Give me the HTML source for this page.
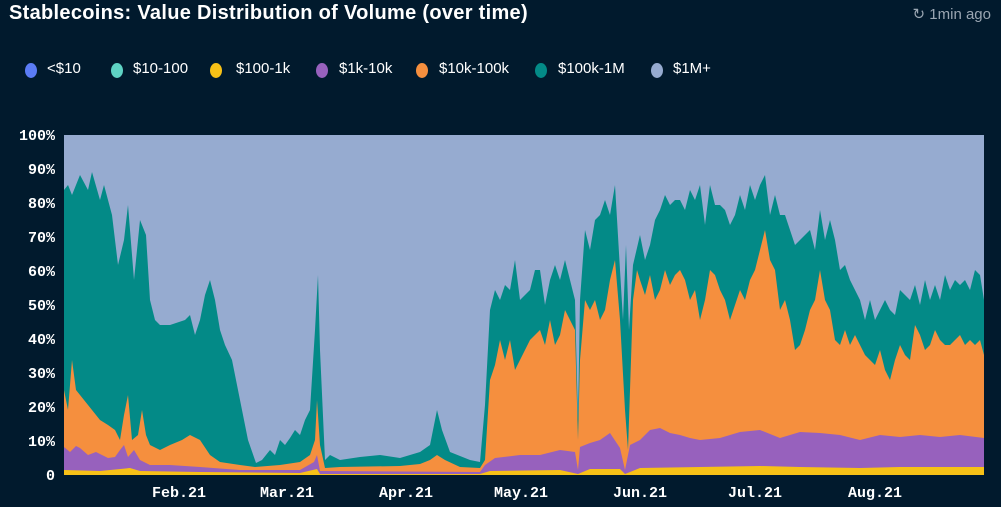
<!DOCTYPE html>
<html><head><meta charset="utf-8"><style>
html,body{margin:0;padding:0;background:#011a2d;width:1001px;height:507px;overflow:hidden;font-family:"Liberation Sans",sans-serif}
.t{position:absolute;left:9px;top:2px;color:#fff;font-weight:bold;font-size:20px;letter-spacing:0.3px}
.ago{position:absolute;right:10px;top:5px;color:#9aa6b2;font-size:15px}
.leg{position:absolute;top:60px;color:#fff;font-size:15px}
.leg span{position:absolute;white-space:nowrap}
.leg i{position:absolute;top:3px;width:12px;height:15px;border-radius:50%}
</style></head><body>
<div class="t">Stablecoins: Value Distribution of Volume (over time)</div>
<div class="ago">↻ 1min ago</div>
<div class="leg">
<i style="left:25px;background:#5b7cf5"></i><span style="left:47px">&lt;$10</span>
<i style="left:111px;background:#5fd3c4"></i><span style="left:133px">$10-100</span>
<i style="left:210px;background:#f7c117"></i><span style="left:236px">$100-1k</span>
<i style="left:316px;background:#9761bd"></i><span style="left:339px">$1k-10k</span>
<i style="left:416px;background:#f58f3e"></i><span style="left:439px">$10k-100k</span>
<i style="left:535px;background:#038a87"></i><span style="left:558px">$100k-1M</span>
<i style="left:651px;background:#96abd0"></i><span style="left:673px">$1M+</span>
</div>
<svg width="1001" height="507" style="position:absolute;left:0;top:0">
<g font-family="Liberation Mono,monospace" font-weight="bold" font-size="15" fill="#fff" text-anchor="end">
<text x="55" y="140">100%</text><text x="55" y="174">90%</text><text x="55" y="208">80%</text><text x="55" y="242">70%</text><text x="55" y="276">60%</text><text x="55" y="310">50%</text><text x="55" y="344">40%</text><text x="55" y="378">30%</text><text x="55" y="412">20%</text><text x="55" y="446">10%</text><text x="55" y="480">0</text>
</g>
<g font-family="Liberation Mono,monospace" font-weight="bold" font-size="15" fill="#fff" text-anchor="middle">
<text x="179" y="497">Feb.21</text><text x="287" y="497">Mar.21</text><text x="406" y="497">Apr.21</text><text x="521" y="497">May.21</text><text x="640" y="497">Jun.21</text><text x="755" y="497">Jul.21</text><text x="875" y="497">Aug.21</text>
</g>
<rect x="64" y="135" width="920" height="340" fill="#96abd0"/>
<polygon fill="#038a87" points="64,475 64,190 68,185 72,195 80,175 88,190 92,172 100,200 104,185 112,215 118,265 124,240 128,205 134,280 140,220 146,235 150,300 155,320 160,325 170,325 185,320 190,315 195,335 200,320 205,295 210,280 215,300 220,330 225,345 232,360 240,400 248,440 256,463 262,460 270,450 275,455 280,440 285,445 290,438 295,430 300,435 305,420 310,410 315,330 318,275 320,350 325,460 330,455 340,460 360,457 380,455 400,458 420,452 430,445 437,410 442,430 450,452 470,460 480,462 485,405 490,310 495,290 500,300 505,285 510,290 515,260 520,300 530,290 535,270 540,270 545,305 550,280 555,265 560,280 565,260 570,280 575,300 578,420 580,300 585,230 590,250 595,220 600,215 605,200 610,215 615,185 620,270 623,320 626,245 629,330 633,265 640,235 645,260 650,245 655,220 660,210 665,195 670,205 675,200 680,200 685,210 690,190 695,200 700,185 705,225 710,185 715,205 720,205 725,210 730,225 735,215 740,195 745,210 750,185 755,200 760,185 765,175 770,215 775,195 780,215 785,215 790,230 795,245 800,240 810,230 815,250 820,210 825,240 830,220 835,240 840,270 845,265 850,280 855,290 860,300 865,320 870,300 875,320 880,310 885,300 890,310 895,315 900,290 905,295 910,300 915,285 920,305 925,280 930,300 935,285 940,300 945,275 950,290 955,280 960,285 965,280 970,290 975,270 980,275 984,300 984,475"/>
<polygon fill="#f58f3e" points="64,475 64,390 68,410 72,360 76,390 80,395 88,405 92,410 100,420 108,425 115,430 120,440 124,415 128,395 132,440 138,435 142,410 146,435 150,445 160,450 170,445 182,440 190,435 200,440 210,455 220,462 240,465 255,467 280,465 300,462 310,455 315,440 317,400 320,445 325,468 340,467 400,466 420,464 430,460 437,455 445,460 460,467 480,468 485,460 490,380 495,365 500,340 505,360 510,340 515,370 520,360 530,340 540,330 545,345 550,320 555,345 560,335 565,310 570,320 575,330 578,440 580,360 585,300 590,310 595,300 600,320 605,310 610,280 615,260 620,320 625,410 628,450 633,300 637,270 640,280 645,295 650,275 655,300 660,290 665,270 670,285 675,275 680,270 685,280 690,300 695,290 700,320 705,300 710,270 715,275 720,290 725,300 730,320 735,305 740,290 745,300 750,280 755,270 760,250 765,230 770,260 775,270 780,310 785,300 790,320 795,350 800,345 805,330 810,310 815,300 820,270 825,300 830,310 835,340 840,345 845,330 850,345 855,335 860,345 865,355 870,360 875,365 880,350 885,370 890,380 895,360 900,345 905,355 910,360 915,325 920,335 925,350 930,345 935,330 940,340 945,345 950,345 955,340 960,335 965,345 970,340 975,345 980,340 984,355 984,475"/>
<polygon fill="#9761bd" points="64,475 64,447 70,452 76,446 80,448 88,455 96,452 108,458 115,457 120,450 124,445 128,457 134,450 140,460 150,465 170,465 200,467 240,470 300,470 314,462 317,455 320,471 480,472 485,465 495,458 520,455 540,455 560,450 575,452 578,470 580,447 590,443 600,440 610,433 620,448 625,470 630,445 640,440 650,430 660,428 670,433 680,435 690,438 700,440 720,438 740,432 760,430 780,438 800,432 820,433 840,435 860,440 880,435 900,437 920,435 940,437 960,435 984,438 984,475"/>
<polygon fill="#f7c117" points="64,475 64,470 100,471 130,468 140,471 200,472 300,473 317,469 320,474 480,474 490,471 560,470 578,474 590,469 620,469 625,474 640,468 700,467 760,466 800,467 860,468 900,467 984,467 984,475"/>
</svg>
</body></html>
